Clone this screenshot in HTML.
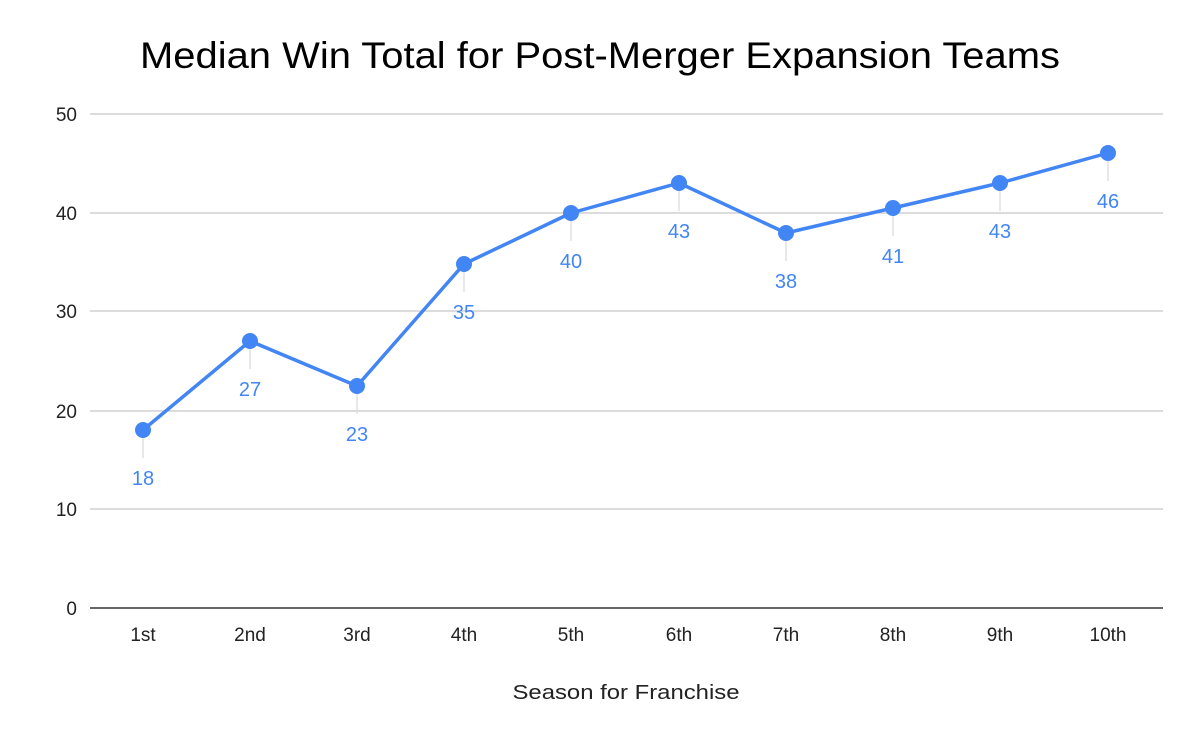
<!DOCTYPE html>
<html><head><style>html,body{margin:0;padding:0;background:#fff}</style></head>
<body>
<svg width="1200" height="742" xmlns="http://www.w3.org/2000/svg" font-family="Liberation Sans, Arial, sans-serif">
<rect width="1200" height="742" fill="#fff"/>
<text x="600" y="68" text-anchor="middle" font-size="37" fill="#000" textLength="920" lengthAdjust="spacingAndGlyphs">Median Win Total for Post-Merger Expansion Teams</text>
<g stroke="#c8c8c8" stroke-width="1.2">
<line x1="90" y1="114" x2="1163" y2="114"/>
<line x1="90" y1="213" x2="1163" y2="213"/>
<line x1="90" y1="311" x2="1163" y2="311"/>
<line x1="90" y1="411" x2="1163" y2="411"/>
<line x1="90" y1="509" x2="1163" y2="509"/>
</g>
<line x1="90" y1="608" x2="1163" y2="608" stroke="#333" stroke-width="1.5"/>
<g font-size="19" fill="#222" text-anchor="end">
<text x="77" y="121">50</text><text x="77" y="220">40</text><text x="77" y="318">30</text>
<text x="77" y="418">20</text><text x="77" y="516">10</text><text x="77" y="615">0</text>
</g>
<g font-size="19" fill="#222" text-anchor="middle">
<text x="143" y="641">1st</text><text x="250" y="641">2nd</text><text x="357" y="641">3rd</text>
<text x="464" y="641">4th</text><text x="571" y="641">5th</text><text x="679" y="641">6th</text>
<text x="786" y="641">7th</text><text x="893" y="641">8th</text><text x="1000" y="641">9th</text>
<text x="1108" y="641">10th</text>
</g>
<text x="626" y="699" text-anchor="middle" font-size="20" fill="#222" textLength="227" lengthAdjust="spacingAndGlyphs">Season for Franchise</text>
<g stroke="#d9d9d9" stroke-width="1.2">
<line x1="143" y1="438" x2="143" y2="458"/><line x1="250" y1="349" x2="250" y2="369"/>
<line x1="357" y1="394" x2="357" y2="414"/><line x1="464" y1="272" x2="464" y2="292"/>
<line x1="571" y1="221" x2="571" y2="241"/><line x1="679" y1="191" x2="679" y2="211"/>
<line x1="786" y1="241" x2="786" y2="261"/><line x1="893" y1="216" x2="893" y2="236"/>
<line x1="1000" y1="191" x2="1000" y2="211"/><line x1="1108" y1="161" x2="1108" y2="181"/>
</g>
<polyline fill="none" stroke="#4285f4" stroke-width="3.5" stroke-linejoin="round" points="143,430 250,341 357,386 464,264 571,213 679,183 786,233 893,208 1000,183 1108,153"/>
<g fill="#4285f4">
<circle cx="143" cy="430" r="8"/><circle cx="250" cy="341" r="8"/><circle cx="357" cy="386" r="8"/>
<circle cx="464" cy="264" r="8"/><circle cx="571" cy="213" r="8"/><circle cx="679" cy="183" r="8"/>
<circle cx="786" cy="233" r="8"/><circle cx="893" cy="208" r="8"/><circle cx="1000" cy="183" r="8"/>
<circle cx="1108" cy="153" r="8"/>
</g>
<g font-size="20" fill="#4285f4" text-anchor="middle">
<text x="143" y="485">18</text><text x="250" y="396">27</text><text x="357" y="441">23</text>
<text x="464" y="319">35</text><text x="571" y="268">40</text><text x="679" y="238">43</text>
<text x="786" y="288">38</text><text x="893" y="263">41</text><text x="1000" y="238">43</text>
<text x="1108" y="208">46</text>
</g>
</svg>
</body></html>
